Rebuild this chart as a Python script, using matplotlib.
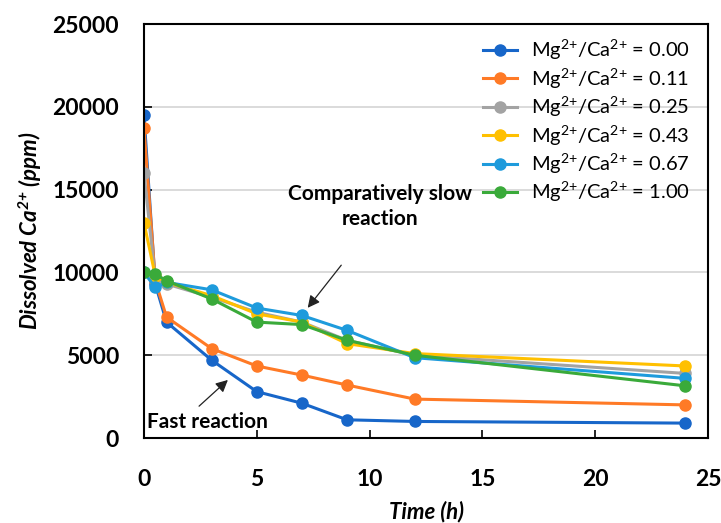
import numpy as np
import matplotlib
matplotlib.use('Agg')
import matplotlib.pyplot as plt

plt.rcParams['font.family'] = ['Lato', 'DejaVu Sans']
plt.rcParams['mathtext.fontset'] = 'custom'
plt.rcParams['mathtext.rm'] = 'Lato'
plt.rcParams['mathtext.it'] = 'Lato:italic'
plt.rcParams['mathtext.bf'] = 'Lato:italic:bold'

time_h = [0, 0.5, 1, 3, 5, 7, 9, 12, 24]
ratio_labels = ['0.00', '0.11', '0.25', '0.43', '0.67', '1.00']
ca_000 = [19500, 9300, 7000, 4700, 2800, 2100, 1100, 1000, 900]
ca_011 = [18700, 9500, 7300, 5400, 4350, 3800, 3200, 2350, 2000]
ca_025 = [16000, 9600, 9300, 8500, 7600, 7000, 5900, 5000, 3900]
ca_043 = [13000, 9800, 9400, 8600, 7500, 7000, 5700, 5100, 4350]
ca_067 = [10000, 9100, 9400, 8950, 7850, 7400, 6500, 4850, 3600]
ca_100 = [10000, 9900, 9500, 8400, 7000, 6850, 5900, 5000, 3150]
series = [ca_000, ca_011, ca_025, ca_043, ca_067, ca_100]

colors = ['#1766C9', '#FF7A26', '#A3A3A3', '#FFC000', '#1E9BDC', '#3AAA3A']

fig = plt.figure(figsize=(7.21, 5.23), dpi=100)
ax = fig.add_axes([0.1997, 0.1625, 0.7823, 0.7915])

for vals, c, lab in zip(series, colors, ratio_labels):
    ax.plot(time_h, vals, color=c, linewidth=2.2, marker='o', markersize=8,
            label=r'Mg$^{2{+}}$/Ca$^{2{+}}$ = ' + lab)

ax.set_xlim(0, 25)
ax.set_ylim(0, 25000)
ax.set_xticks([0, 5, 10, 15, 20, 25])
ax.set_yticks([0, 5000, 10000, 15000, 20000, 25000])
ax.tick_params(axis='both', direction='in', length=6, width=1.2, labelsize=16.5)
for t in ax.get_xticklabels() + ax.get_yticklabels():
    t.set_fontweight('bold')
ax.tick_params(axis='x', pad=22)
ax.tick_params(axis='y', pad=18)
ax.grid(axis='y', color='#d4d4d4', linewidth=1.2)
ax.set_axisbelow(True)
for s in ax.spines.values():
    s.set_linewidth(1.5)

ax.set_xlabel('Time (h)', fontsize=16, fontweight='bold', fontstyle='italic', labelpad=8)
ax.set_ylabel(r'Dissolved Ca$^{\mathbf{2{+}}}$ (ppm)', fontsize=16, fontweight='bold',
              fontstyle='italic', labelpad=6)

ax.text(10.45, 14000, 'Comparatively slow\nreaction', fontsize=15, fontweight='bold',
        ha='center', va='center', linespacing=1.3)
ax.annotate('', xy=(7.18, 7730), xytext=(8.82, 10570),
            arrowprops=dict(arrowstyle='-|>', color='#222222', lw=0.9, mutation_scale=18))
ax.annotate('', xy=(3.81, 3620), xytext=(2.35, 1810),
            arrowprops=dict(arrowstyle='-|>', color='#222222', lw=0.9, mutation_scale=18))
ax.text(0.15, 950, 'Fast reaction', fontsize=15, fontweight='bold', ha='left', va='center')

ax.legend(loc='upper right', bbox_to_anchor=(1.0, 1.01), frameon=False, fontsize=14.5,
          handlelength=1.7, handletextpad=0.7, labelspacing=0.21)

plt.savefig('out.png', dpi=100)
